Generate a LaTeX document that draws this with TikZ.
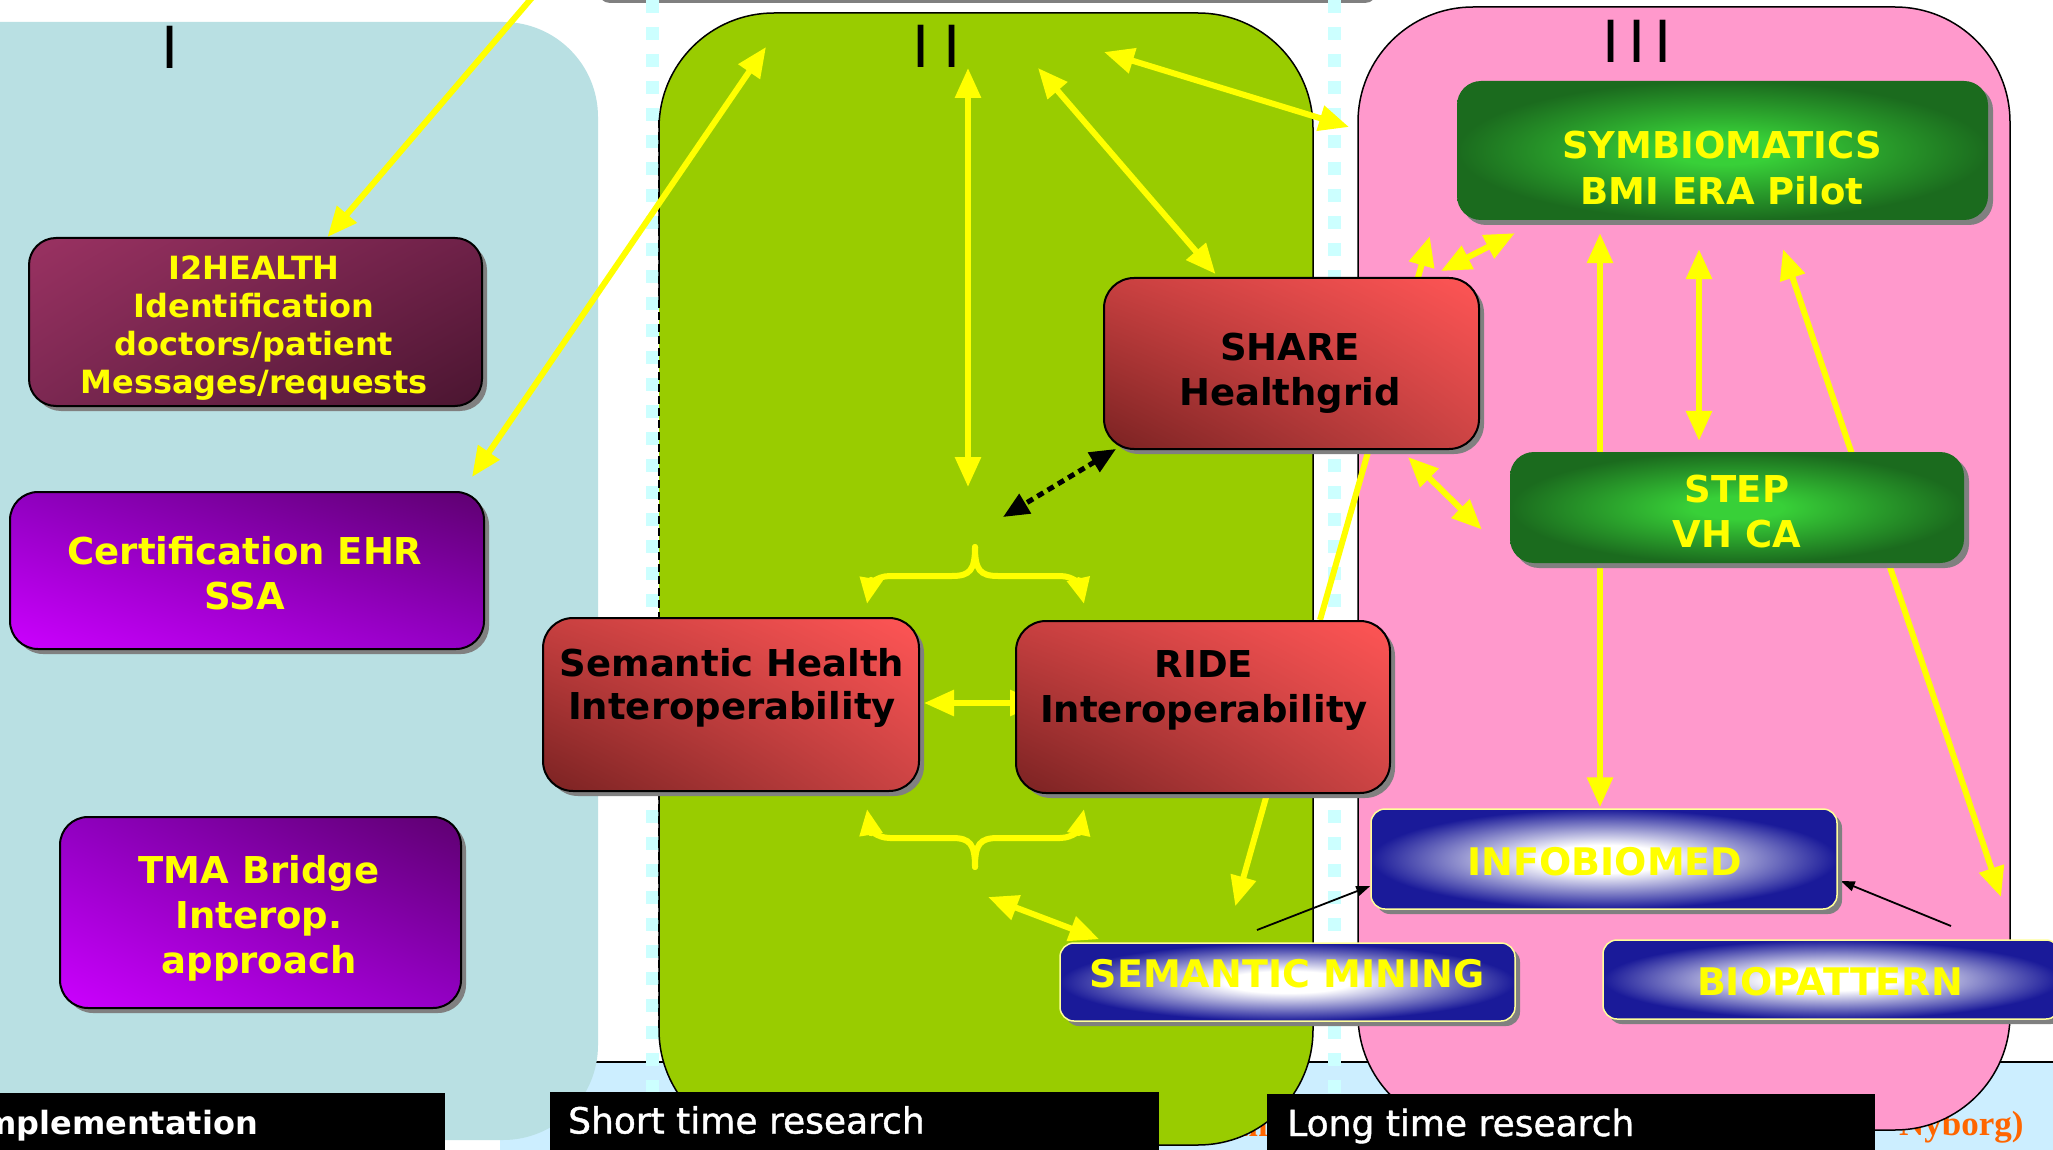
\documentclass[tikz,border=0pt]{standalone}
\usepackage{fontspec}
\setmainfont{DejaVu Sans}
\newfontfamily\orafont{Liberation Serif}
\newfontfamily\semibfont[FakeBold=1.2]{DejaVu Sans}
\usetikzlibrary{arrows.meta,calc,shadows,shadings}
\definecolor{panelI}{HTML}{B9E0E3}
\definecolor{panelII}{HTML}{99CC00}
\definecolor{panelIII}{HTML}{FF99CC}
\definecolor{band}{HTML}{CCEEFF}
\definecolor{cyand}{HTML}{CCFFFF}
\definecolor{yel}{HTML}{FFFF00}
\definecolor{lyel}{HTML}{FFFF99}
\definecolor{gIn}{HTML}{38D038}
\definecolor{gOut}{HTML}{1B6B1E}
\definecolor{bOut}{HTML}{1A1A99}
\definecolor{orng}{HTML}{FF6600}
\definecolor{shad}{HTML}{808080}
\definecolor{iUL}{HTML}{9A3262}
\definecolor{iUR}{HTML}{6E2148}
\definecolor{iLL}{HTML}{7C2852}
\definecolor{iLR}{HTML}{4A1530}
\definecolor{pUL}{HTML}{9000C0}
\definecolor{pUR}{HTML}{5E0070}
\definecolor{pLL}{HTML}{CC00FF}
\definecolor{pLR}{HTML}{9300C4}
\definecolor{rUL}{HTML}{C84040}
\definecolor{rUR}{HTML}{FF5555}
\definecolor{rLL}{HTML}{7A2222}
\definecolor{rLR}{HTML}{CC4444}
\pgfdeclareradialshading{glowgreen}{\pgfpoint{0bp}{0bp}}{color(0bp)=(gIn); color(5bp)=(gIn); color(25bp)=(gOut); color(50bp)=(gOut)}
\pgfdeclareradialshading{glowblue}{\pgfpoint{0bp}{0bp}}{color(0bp)=(white); color(7bp)=(white); color(25bp)=(bOut); color(50bp)=(bOut)}
\pgfdeclarelayer{back}
\pgfdeclarelayer{arrows}
\pgfsetlayers{back,arrows,main}
\newcommand\myfs[2]{\fontsize{#1}{#2}\selectfont\bfseries}
\begin{document}
\begin{tikzpicture}[x=1pt,y=-1pt,
  shd/.style={drop shadow={shadow xshift=5pt,shadow yshift=-5pt,fill=shad,opacity=1}},
  i2box/.style={rectangle, inner sep=0pt, rounded corners=27pt, draw=black, line width=2pt, shd,
     shading=bilinear interpolation, upper left=iUL, upper right=iUR, lower left=iLL, lower right=iLR},
  purbox/.style={rectangle, inner sep=0pt, rounded corners=28pt, draw=black, line width=2pt, shd,
     shading=bilinear interpolation, upper left=pUL, upper right=pUR, lower left=pLL, lower right=pLR},
  redbox/.style={rectangle, inner sep=0pt, rounded corners=30pt, draw=black, line width=2pt, shd,
     shading=bilinear interpolation, upper left=rUL, upper right=rUR, lower left=rLL, lower right=rLR},
  grnbox/.style={rectangle, inner sep=0pt, rounded corners=24pt, shd, shading=glowgreen, shade},
  blubox/.style={rectangle, inner sep=0pt, rounded corners=14pt, draw=lyel, line width=1.5pt, shd, shading=glowblue, shade},
  ytxt/.style={inner sep=0pt, align=center, text=yel},
  ktxt/.style={inner sep=0pt, align=center, text=black},
  labbox/.style={fill=black, inner sep=0pt, anchor=north west, minimum height=70pt},
  labtxt/.style={inner sep=0pt, text=white, anchor=base west},
  roman/.style={inner sep=0pt, font=\fontsize{58}{58}\selectfont},
  ya/.style={draw=yel, line width=6pt, -{Triangle[length=30pt,width=25pt]}},
  yab/.style={draw=yel, line width=6pt, {Triangle[length=30pt,width=25pt]}-{Triangle[length=30pt,width=25pt]}},
  yabr/.style={draw=yel, line width=6pt, line cap=round, -{Triangle[length=26pt,width=22pt]}},
  blkdot/.style={draw=black, line width=5pt, dash pattern=on 7pt off 5pt, {Triangle[length=26pt,width=22pt]}-{Triangle[length=26pt,width=22pt]}},
  thinarr/.style={draw=black, line width=1.8pt, -{Triangle[length=14pt,width=10pt]}}
]
\useasboundingbox (0,0) rectangle (2053,1150);

% ---------------- background layer ----------------
\begin{pgfonlayer}{back}
\fill[white] (0,0) rectangle (2053,1150);
\fill[band] (500,1062) rectangle (2053,1150);
\draw[line width=2pt] (560,1062) -- (2053,1062);
\fill[shad, rounded corners=12pt] (598,-40) rectangle (1377,3);
\draw[cyand, line width=13pt, dash pattern=on 13pt off 14pt] (652,0) -- (652,1150);
\draw[cyand, line width=13pt, dash pattern=on 13pt off 14pt] (1334,0) -- (1334,1150);
% orange text fragments behind panels
\node[inner sep=0pt, anchor=base west, text=orng, font=\orafont\bfseries\fontsize{35}{35}\selectfont] (orA) at (1899,1135) {Nyborg)};
\node[inner sep=0pt, anchor=base east, text=orng, font=\orafont\bfseries\fontsize{35}{35}\selectfont] (orB) at (1268,1136) {m};
% panel I
\fill[panelI, rounded corners=95pt] (-300,22) -- (598,22) -- (598,1140) -- (-300,1140) -- cycle;
% panel II
\fill[panelII, rounded corners=115pt] (659,13) rectangle (1313,1145);
\draw[line width=1.5pt, rounded corners=115pt] (659,300) -- (659,13) -- (1313,13) -- (1313,1145) -- (659,1145) -- (659,800);
\draw[line width=1.5pt, dash pattern=on 8pt off 4pt] (659,120) -- (659,1030);
% panel III
\filldraw[fill=panelIII, draw=black, line width=1.5pt, rounded corners=115pt] (1358,7) rectangle (2010,1130);
% roman labels
\node[roman] (lI) at (170,47) {I};
\node[roman] (lII) at (937,46) {I\kern14pt I};
\node[roman] (lIII) at (1637,41) {I\kern9pt I\kern9pt I};
\end{pgfonlayer}

% ---------------- boxes ----------------
\node[i2box, minimum width=453pt, minimum height=168pt] (i2) at (255.5,322) {};
\node[ytxt, font=\myfs{32}{38}] (i2t) at (254,328) {I2HEALTH\\Identification\\doctors/patient\\Messages/requests};

\node[purbox, minimum width=474pt, minimum height=157pt] (cert) at (247,570.5) {};
\node[ytxt, font=\myfs{37}{45}] (certt) at (245,573) {Certification EHR\\SSA};

\node[purbox, minimum width=401pt, minimum height=191pt] (tma) at (260.5,912.5) {};
\node[ytxt, font=\myfs{37}{45}] (tmat) at (259,918) {TMA Bridge\\Interop.\\approach};

\node[redbox, minimum width=375pt, minimum height=171pt] (share) at (1291.5,363.5) {};
\node[ktxt, font=\myfs{37}{45}] (sharet) at (1290,373) {SHARE\\Healthgrid};

\node[redbox, minimum width=376pt, minimum height=173pt] (sem) at (731,704.5) {};
\node[ktxt, font=\myfs{37}{43}] (semt) at (732,688) {Semantic Health\\Interoperability};

\node[redbox, minimum width=374pt, minimum height=172pt] (ride) at (1203,707) {};
\node[ktxt, font=\myfs{37}{45}] (ridet) at (1204,691) {RIDE\\Interoperability};

\node[grnbox, minimum width=531pt, minimum height=139pt] (symb) at (1722.5,150.5) {};
\node[ytxt, font=\myfs{37}{46}] (symbt) at (1722,168) {SYMBIOMATICS\\BMI ERA Pilot};

\node[grnbox, minimum width=454pt, minimum height=111pt] (step) at (1737,507.5) {};
\node[ytxt, font=\myfs{37}{45}] (stept) at (1737,512) {STEP\\VH CA};

\node[blubox, minimum width=466pt, minimum height=100pt] (info) at (1604,859) {};
\node[ytxt, font=\myfs{38}{38}] (infot) at (1605,862) {INFOBIOMED};

\node[blubox, minimum width=455pt, minimum height=78pt] (semm) at (1287.5,982) {};
\node[ytxt, font=\myfs{38}{38}] (semmt) at (1287,974) {SEMANTIC MINING};

\node[blubox, minimum width=457pt, minimum height=79pt] (biop) at (1831.5,979.5) {};
\node[ytxt, font=\myfs{38}{38}] (biopt) at (1830,982) {BIOPATTERN};

% ---------------- connectors ----------------
\begin{pgfonlayer}{arrows}
\coordinate (topin) at (542,-14);
\draw[ya] (topin) -- ($(i2.north)+(72,0)$);
\coordinate (iitl) at (766,47);
\draw[yab] ($(cert.north east)+(-13,-14)$) -- (iitl);
\coordinate (vtop) at (968,68);
\coordinate (vbot) at (968,487);
\draw[yab] (vtop) -- (vbot);
\coordinate (dtop) at (1038,68);
\draw[yab] (dtop) -- ($(share.north)+(-76,-3)$);
\coordinate (etl) at (1104,52);
\coordinate (ebr) at (1349,127);
\draw[yab] (etl) -- (ebr);
\coordinate (dotend) at (1003,517);
\draw[blkdot] ($(share.south west)+(13,-1)$) -- (dotend);
% braces
\coordinate (btop) at (975,547);
\coordinate (bbot) at (975,867);
\draw[yabr] (btop) .. controls (975,570) and (970,576) .. (952,576) -- (890,576) .. controls (876,576) and (870,586) .. ($(sem.north)+(136,-13)$);
\draw[yabr] (btop) .. controls (975,570) and (980,576) .. (998,576) -- (1060,576) .. controls (1074,576) and (1080,586) .. ($(ride.north)+(-119,-16)$);
\draw[yabr] (bbot) .. controls (975,844) and (970,838) .. (952,838) -- (890,838) .. controls (876,838) and (870,828) .. ($(sem.south)+(136,17)$);
\draw[yabr] (bbot) .. controls (975,844) and (980,838) .. (998,838) -- (1060,838) .. controls (1074,838) and (1080,828) .. ($(ride.south)+(-119,15)$);
\draw[yab] ($(ride.west)+(25,-4)$) -- ($(sem.east)+(4,-1.5)$);
\coordinate (ibl) at (988,897);
\draw[yab] (ibl) -- ($(semm.north west)+(40,-3)$);
\draw[ya] ($(ride.south)+(64,0)$) -- ($(semm.north west)+(176,-36)$);
\draw[ya] ($(ride.north)+(117,0)$) -- ($(symb.south west)+(-27,16)$);
\draw[yab] ($(share.north east)+(-39,-6)$) -- ($(symb.south west)+(58,13)$);
\draw[yab] ($(share.south east)+(-72,7)$) -- ($(step.west)+(-28,22)$);
\draw[yab] ($(symb.south)+(-122.5,13)$) -- ($(info.north)+(-4,-1)$);
\draw[yab] ($(symb.south)+(-23.5,29)$) -- ($(step.north)+(-38,-11)$);
\coordinate (pend) at (2001,897);
\draw[yab] ($(symb.south)+(60.5,29)$) -- (pend);
\coordinate (qst) at (1257,930);
\draw[thinarr] (qst) -- ($(info.west)+(0,27)$);
\coordinate (rst) at (1951,926);
\draw[thinarr] (rst) -- ($(info.east)+(3,22)$);
\end{pgfonlayer}

% ---------------- bottom labels ----------------
\node[labbox, minimum width=445pt] (implbox) at (0,1093) {};
\node[labtxt, font=\myfs{32}{32}] (impltxt) at (-29,1134) {Implementation};
\node[labbox, minimum width=609pt] (shortbox) at (550,1092) {};
\node[labtxt, font=\semibfont\fontsize{36}{36}\selectfont] (shorttxt) at (568,1133.5) {Short time research};
\node[labbox, minimum width=608pt] (longbox) at (1267,1094) {};
\node[labtxt, font=\semibfont\fontsize{36}{36}\selectfont] (longtxt) at (1287,1136) {Long time research};
\end{tikzpicture}
\end{document}
